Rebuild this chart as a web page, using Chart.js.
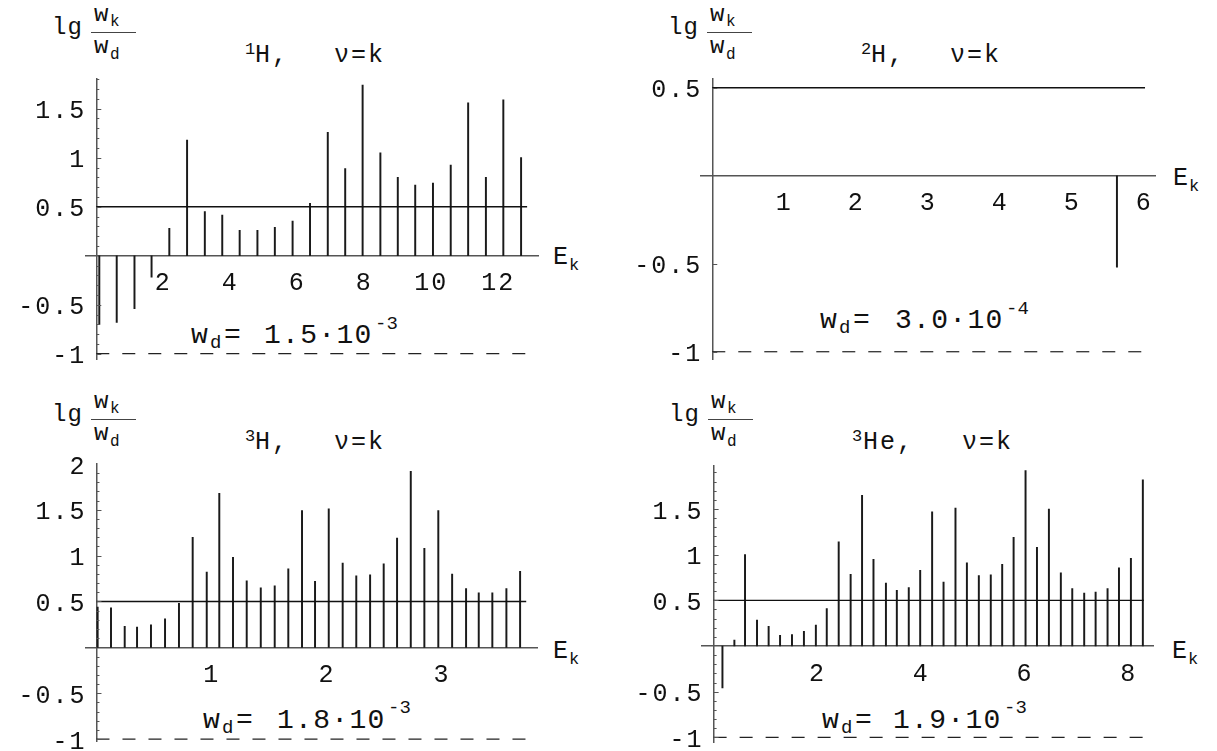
<!DOCTYPE html>
<html><head><meta charset="utf-8">
<script src="https://cdn.jsdelivr.net/npm/chart.js@4.4.0/dist/chart.umd.min.js"></script>
<style>
html,body{margin:0;padding:0;background:#fff;width:1217px;height:751px;overflow:hidden;position:relative;font-family:"Liberation Mono",monospace;color:#111}
canvas{position:absolute}
.t{position:absolute;white-space:nowrap;line-height:1;font-family:"Liberation Mono",monospace;color:#111}
.f24{font-size:24px;letter-spacing:1px}.f25{font-size:25px;letter-spacing:2px}.f28{font-size:28px;letter-spacing:1.3px}
.s16{font-size:16px}.s17{font-size:17px}.s19{font-size:19px}
.bar{position:absolute;height:1px;background:#444}
</style></head><body>

<!-- Panel 1 texts -->
<span class="t f24" style="left:52px;top:15.6px">lg</span>
<span class="t f24" style="left:94px;top:2.6px">w</span><span class="t s16" style="left:110px;top:13.7px">k</span>
<div class="bar" style="left:91px;top:32px;width:45px"></div>
<span class="t f24" style="left:94px;top:34.6px">w</span><span class="t s16" style="left:110px;top:46.7px">d</span>
<span class="t s17" style="left:245px;top:41px">1</span><span class="t f25" style="left:255px;top:42.8px">H,</span>
<span class="t f25" style="left:334px;top:42.8px">ν=k</span>
<span class="t f25" style="left:553px;top:244.8px">E</span><span class="t s17" style="left:569px;top:257px">k</span>
<span class="t f28" style="left:191px;top:321.5px">w</span><span class="t s19" style="left:210px;top:334.4px">d</span>
<span class="t f28" style="left:224px;top:321.5px">=</span>
<span class="t f28" style="left:264px;top:321.5px">1.5·10</span><span class="t s19" style="left:375px;top:315.4px">-3</span>

<!-- Panel 2 texts -->
<span class="t f24" style="left:668px;top:15.6px">lg</span>
<span class="t f24" style="left:710px;top:2.6px">w</span><span class="t s16" style="left:726px;top:13.7px">k</span>
<div class="bar" style="left:707px;top:32px;width:45px"></div>
<span class="t f24" style="left:710px;top:34.6px">w</span><span class="t s16" style="left:726px;top:46.7px">d</span>
<span class="t s17" style="left:861px;top:41px">2</span><span class="t f25" style="left:871px;top:42.8px">H,</span>
<span class="t f25" style="left:950px;top:42.8px">ν=k</span>
<span class="t f25" style="left:1173px;top:165.8px">E</span><span class="t s17" style="left:1189px;top:178px">k</span>
<span class="t f28" style="left:820px;top:306.5px">w</span><span class="t s19" style="left:839px;top:319.4px">d</span>
<span class="t f28" style="left:853px;top:306.5px">=</span>
<span class="t f28" style="left:895px;top:306.5px">3.0·10</span><span class="t s19" style="left:1006px;top:300.4px">-4</span>

<!-- Panel 3 texts -->
<span class="t f24" style="left:52px;top:402.6px">lg</span>
<span class="t f24" style="left:94px;top:389.6px">w</span><span class="t s16" style="left:110px;top:400.7px">k</span>
<div class="bar" style="left:91px;top:419px;width:45px"></div>
<span class="t f24" style="left:94px;top:421.6px">w</span><span class="t s16" style="left:110px;top:433.7px">d</span>
<span class="t s17" style="left:245px;top:428px">3</span><span class="t f25" style="left:255px;top:429.8px">H,</span>
<span class="t f25" style="left:334px;top:429.8px">ν=k</span>
<span class="t f25" style="left:553px;top:638.8px">E</span><span class="t s17" style="left:569px;top:651px">k</span>
<span class="t f28" style="left:203px;top:706.5px">w</span><span class="t s19" style="left:222px;top:719.4px">d</span>
<span class="t f28" style="left:236px;top:706.5px">=</span>
<span class="t f28" style="left:277px;top:706.5px">1.8·10</span><span class="t s19" style="left:388px;top:699.4px">-3</span>

<!-- Panel 4 texts -->
<span class="t f24" style="left:669px;top:402.6px">lg</span>
<span class="t f24" style="left:711px;top:389.6px">w</span><span class="t s16" style="left:727px;top:400.7px">k</span>
<div class="bar" style="left:708px;top:419px;width:45px"></div>
<span class="t f24" style="left:711px;top:421.6px">w</span><span class="t s16" style="left:727px;top:433.7px">d</span>
<span class="t s17" style="left:852px;top:428px">3</span><span class="t f25" style="left:863px;top:429.8px">He,</span>
<span class="t f25" style="left:962px;top:429.8px">ν=k</span>
<span class="t f25" style="left:1172px;top:638.8px">E</span><span class="t s17" style="left:1188px;top:651px">k</span>
<span class="t f28" style="left:822px;top:706.5px">w</span><span class="t s19" style="left:841px;top:719.4px">d</span>
<span class="t f28" style="left:855px;top:706.5px">=</span>
<span class="t f28" style="left:893px;top:706.5px">1.9·10</span><span class="t s19" style="left:1004px;top:699.4px">-3</span>

<script>
// ---------- data ----------
const refLevel = 0.5;
const floorLevel = -1;

const h1Energies = [0.09, 0.61, 1.14, 1.65, 2.18, 2.71, 3.24, 3.76, 4.28, 4.81, 5.33, 5.86, 6.38, 6.91, 7.43, 7.95, 8.48, 9.0, 9.52, 10.05, 10.58, 11.1, 11.63, 12.15, 12.68];
const h1Values   = [-0.70, -0.68, -0.54, -0.22, 0.28, 1.18, 0.45, 0.415, 0.26, 0.26, 0.29, 0.354, 0.535, 1.26, 0.89, 1.74, 1.05, 0.80, 0.72, 0.74, 0.925, 1.56, 0.80, 1.59, 1.0];
const h1XTicks = [2, 4, 6, 8, 10, 12];
const h1YTicks = [-1, -0.5, 0.5, 1, 1.5];

const h2Energies = [5.62];
const h2Values   = [-0.52];
const h2XTicks = [1, 2, 3, 4, 5, 6];
const h2YTicks = [-1, -0.5, 0.5];

const h3Energies = [0.01, 0.126, 0.245, 0.352, 0.473, 0.595, 0.716, 0.835, 0.957, 1.066, 1.185, 1.304, 1.426, 1.547, 1.665, 1.784, 1.897, 2.016, 2.137, 2.255, 2.375, 2.493, 2.609, 2.728, 2.846, 2.967, 3.087, 3.208, 3.318, 3.436, 3.558, 3.677];
const h3Values   = [0.44, 0.43, 0.23, 0.22, 0.245, 0.31, 0.48, 1.20, 0.82, 1.68, 0.98, 0.725, 0.65, 0.67, 0.856, 1.49, 0.72, 1.51, 0.92, 0.78, 0.79, 0.91, 1.19, 1.92, 1.08, 1.49, 0.80, 0.64, 0.595, 0.595, 0.64, 0.83];
const h3XTicks = [1, 2, 3];
const h3YTicks = [-1, -0.5, 0.5, 1, 1.5, 2];

const he3Energies = [0.17, 0.40, 0.605, 0.836, 1.06, 1.28, 1.51, 1.74, 1.97, 2.18, 2.41, 2.64, 2.86, 3.08, 3.32, 3.53, 3.76, 3.98, 4.21, 4.43, 4.66, 4.88, 5.11, 5.34, 5.56, 5.78, 6.01, 6.23, 6.46, 6.69, 6.91, 7.14, 7.36, 7.59, 7.81, 8.04, 8.27];
const he3Values   = [-0.46, 0.065, 1.0, 0.285, 0.215, 0.117, 0.124, 0.16, 0.23, 0.41, 1.14, 0.785, 1.65, 0.95, 0.69, 0.61, 0.64, 0.83, 1.47, 0.70, 1.51, 0.91, 0.77, 0.78, 0.895, 1.19, 1.92, 1.08, 1.50, 0.80, 0.63, 0.58, 0.59, 0.63, 0.855, 0.96, 1.82];
const he3XTicks = [2, 4, 6, 8];
const he3YTicks = [-1, -0.5, 0.5, 1, 1.5];

// ---------- layout (positions / ranges) ----------
const panels = [
  {xs:h1Energies, ys:h1Values, xt:h1XTicks, yt:h1YTicks, cx:0,   cy:60,  cw:600, ch:330, pad:{left:86,  top:19,   right:62,   bottom:30.4}, xmin:-0.307, xmax:13.185, ymin:-1.06,  ymax:1.803, lineEnd:12.86, minor:0.1},
  {xs:h2Energies, ys:h2Values, xt:h2XTicks, yt:h2YTicks, cx:610, cy:60,  cw:600, ch:330, pad:{left:90.9, top:18.9, right:54.9, bottom:30.7}, xmin:-0.158, xmax:6.15,   ymin:-1.043, ymax:0.55,  lineEnd:6.01,  minor:0.5},
  {xs:h3Energies, ys:h3Values, xt:h3XTicks, yt:h3YTicks, cx:0,   cy:440, cw:600, ch:340, pad:{left:86,  top:24,   right:62.5, bottom:38.3}, xmin:-0.091, xmax:3.828,  ymin:-1.029, ymax:1.999, lineEnd:3.73,  minor:0.1},
  {xs:he3Energies,ys:he3Values,xt:he3XTicks,yt:he3YTicks,cx:610, cy:440, cw:600, ch:340, pad:{left:92.2, top:26,   right:56.2, bottom:38},   xmin:-0.22,  xmax:8.481,  ymin:-1.051, ymax:1.971, lineEnd:8.29,  minor:0.1}
];
const LABEL_GAP_PX = 10;   // shift of y tick labels left of the axis line

const FONT = "'Liberation Mono', monospace";
Chart.defaults.font.family = FONT;

const tickMarks = {
  id: 'tickMarks',
  beforeDraw(chart) { chart.ctx.letterSpacing = '2px'; },
  afterDatasetsDraw(chart, args, opts) {
    const {ctx, scales: {x, y}} = chart;
    const x0 = x.getPixelForValue(0);
    const step = opts.step;
    ctx.save();
    ctx.strokeStyle = '#555';
    ctx.lineWidth = 1;
    const n0 = Math.ceil(y.min / step - 1e-9), n1 = Math.floor(y.max / step + 1e-9);
    for (let n = n0; n <= n1; n++) {
      const v = n * step;
      if (Math.abs(v) < 1e-9) continue;
      const major = Math.abs(v * 2 - Math.round(v * 2)) < 1e-6;
      const py = Math.round(y.getPixelForValue(v)) + 0.5;
      ctx.beginPath();
      ctx.moveTo(x0, py);
      ctx.lineTo(x0 + (major ? 5 : 3), py);
      ctx.stroke();
    }
    ctx.restore();
  },
  afterDraw(chart) { chart.ctx.letterSpacing = '0px'; }
};

function fmt(v) { return String(v); }

panels.forEach(p => {
  const c = document.createElement('canvas');
  c.width = p.cw; c.height = p.ch;
  c.style.left = p.cx + 'px'; c.style.top = p.cy + 'px';
  c.style.width = p.cw + 'px'; c.style.height = p.ch + 'px';
  document.body.appendChild(c);
  const areaW = p.cw - p.pad.left - p.pad.right;
  const labelX = -LABEL_GAP_PX * (p.xmax - p.xmin) / areaW;
  const tickFont = {size: 25, family: FONT};
  new Chart(c, {
    type: 'bar',
    data: {
      datasets: [
        {type: 'bar', data: p.xs.map((x, i) => ({x: x, y: p.ys[i]})), backgroundColor: '#1a1a1a', borderWidth: 0, barThickness: 1.3, order: 2},
        {type: 'line', data: [{x: 0, y: refLevel}, {x: p.lineEnd, y: refLevel}], borderColor: '#111', borderWidth: 1.4, pointRadius: 0, fill: false, order: 1},
        {type: 'line', data: [{x: 0, y: floorLevel}, {x: p.lineEnd, y: floorLevel}], borderColor: '#222', borderWidth: 1.2, borderDash: [13, 13], pointRadius: 0, fill: false, order: 1}
      ]
    },
    options: {
      responsive: false, maintainAspectRatio: false, animation: false,
      devicePixelRatio: 1,
      layout: {padding: p.pad},
      plugins: {legend: {display: false}, tooltip: {enabled: false}, tickMarks: {step: p.minor}},
      scales: {
        x: {
          type: 'linear', min: p.xmin, max: p.xmax, offset: false,
          position: {y: 0},
          grid: {display: false, drawTicks: false, offset: false},
          border: {display: true, color: '#555', width: 1.5},
          ticks: {color: '#111', font: tickFont, padding: 13, maxRotation: 0, autoSkip: false, callback: v => fmt(v)},
          afterBuildTicks: s => { s.ticks = p.xt.map(v => ({value: v})); },
          afterFit: s => { s.height = 0; }
        },
        y: {
          type: 'linear', min: p.ymin, max: p.ymax,
          position: {x: 0},
          grid: {display: false, drawTicks: false},
          border: {display: true, color: '#555', width: 1.5},
          ticks: {display: false},
          afterFit: s => { s.width = 0; }
        },
        yl: {
          type: 'linear', min: p.ymin, max: p.ymax,
          position: {x: labelX},
          grid: {display: false, drawTicks: false},
          border: {display: false},
          ticks: {color: '#111', font: tickFont, padding: 0, labelOffset: 3, autoSkip: false, callback: v => fmt(v)},
          afterBuildTicks: s => { s.ticks = p.yt.map(v => ({value: v})); },
          afterFit: s => { s.width = 0; }
        }
      }
    },
    plugins: [tickMarks]
  });
});
</script>
</body></html>
